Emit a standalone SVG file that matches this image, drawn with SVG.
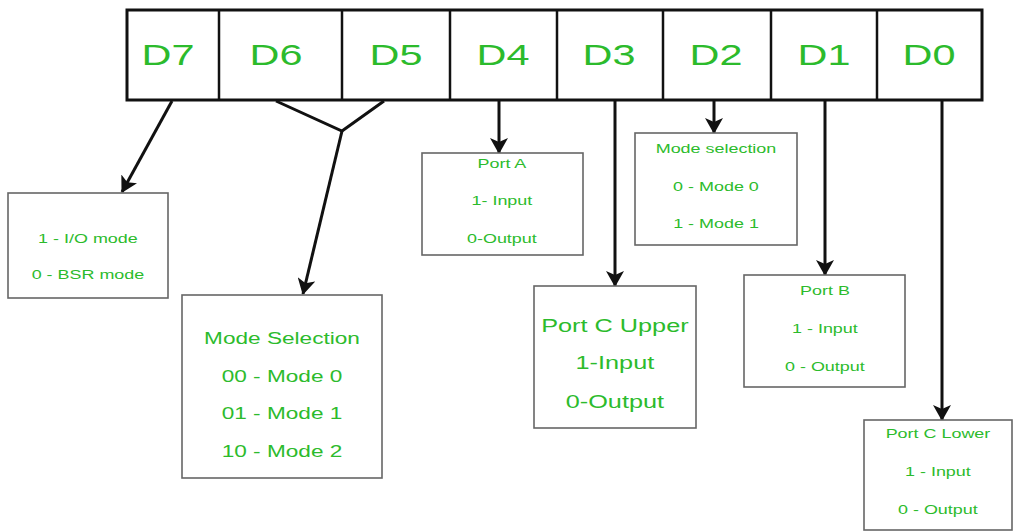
<svg xmlns="http://www.w3.org/2000/svg" width="1016" height="532" viewBox="0 0 1016 532">
<style>
text{font-family:"Liberation Sans",Arial,sans-serif;fill:#2cbb2c;text-anchor:middle;transform-box:fill-box;transform-origin:center;transform:scaleX(1.38)}
.reg{fill:#fff;stroke:#111;stroke-width:3}
.div{stroke:#111;stroke-width:2.5}
.box{fill:#fff;stroke:#666;stroke-width:1.6}
.c{stroke:#111;stroke-width:3;fill:none}
.bit{font-size:30px}
.s{font-size:13px}
.m{font-size:17px;transform:scaleX(1.33)}
.l{font-size:19px;transform:scaleX(1.33)}
</style>
<defs>
<marker id="ah" viewBox="0 0 16 18" refX="15" refY="9" markerWidth="16" markerHeight="18" markerUnits="userSpaceOnUse" orient="auto">
<path d="M0,0 L16,9 L0,18 L4,9 Z" fill="#111"/>
</marker>
</defs>
<g id="register">
<rect class="reg" x="127" y="10" width="855" height="90"/>
<line class="div" x1="219" y1="10" x2="219" y2="100"/>
<line class="div" x1="342" y1="10" x2="342" y2="100"/>
<line class="div" x1="450" y1="10" x2="450" y2="100"/>
<line class="div" x1="557" y1="10" x2="557" y2="100"/>
<line class="div" x1="663" y1="10" x2="663" y2="100"/>
<line class="div" x1="771" y1="10" x2="771" y2="100"/>
<line class="div" x1="877" y1="10" x2="877" y2="100"/>
<text class="bit" x="168" y="65">D7</text>
<text class="bit" x="276" y="65">D6</text>
<text class="bit" x="396" y="65">D5</text>
<text class="bit" x="503" y="65">D4</text>
<text class="bit" x="609" y="65">D3</text>
<text class="bit" x="716" y="65">D2</text>
<text class="bit" x="824" y="65">D1</text>
<text class="bit" x="929" y="65">D0</text>
</g>
<g id="connectors">
<line class="c" x1="172" y1="101" x2="122" y2="192" marker-end="url(#ah)"/>
<polyline class="c" points="276,101 342,131 384,101"/>
<line class="c" x1="342" y1="131" x2="303" y2="294" marker-end="url(#ah)"/>
<line class="c" x1="499" y1="101" x2="499" y2="153" marker-end="url(#ah)"/>
<line class="c" x1="615" y1="101" x2="615" y2="286" marker-end="url(#ah)"/>
<line class="c" x1="714" y1="101" x2="714" y2="133" marker-end="url(#ah)"/>
<line class="c" x1="825" y1="101" x2="825" y2="275" marker-end="url(#ah)"/>
<line class="c" x1="942" y1="101" x2="942" y2="420" marker-end="url(#ah)"/>
</g>
<g id="n-d7">
<rect class="box" x="8" y="193" width="160" height="105"/>
<text class="s" x="88" y="243">1 - I/O mode</text>
<text class="s" x="88" y="279">0 - BSR mode</text>
</g>
<g id="n-d6d5">
<rect class="box" x="182" y="295" width="200" height="183"/>
<text class="m" x="282" y="344">Mode Selection</text>
<text class="m" x="282" y="382">00 - Mode 0</text>
<text class="m" x="282" y="419">01 - Mode 1</text>
<text class="m" x="282" y="457">10 - Mode 2</text>
</g>
<g id="n-d4">
<rect class="box" x="422" y="153" width="161" height="102"/>
<text class="s" x="502" y="168">Port A</text>
<text class="s" x="502" y="205">1- Input</text>
<text class="s" x="502" y="243">0-Output</text>
</g>
<g id="n-d2">
<rect class="box" x="635" y="133" width="162" height="112"/>
<text class="s" x="716" y="153">Mode selection</text>
<text class="s" x="716" y="191">0 - Mode 0</text>
<text class="s" x="716" y="228">1 - Mode 1</text>
</g>
<g id="n-d3">
<rect class="box" x="534" y="286" width="162" height="142"/>
<text class="l" x="615" y="332">Port C Upper</text>
<text class="l" x="615" y="369">1-Input</text>
<text class="l" x="615" y="408">0-Output</text>
</g>
<g id="n-d1">
<rect class="box" x="744" y="275" width="161" height="112"/>
<text class="s" x="825" y="295">Port B</text>
<text class="s" x="825" y="333">1 - Input</text>
<text class="s" x="825" y="371">0 - Output</text>
</g>
<g id="n-d0">
<rect class="box" x="864" y="420" width="148" height="110"/>
<text class="s" x="938" y="438">Port C Lower</text>
<text class="s" x="938" y="476">1 - Input</text>
<text class="s" x="938" y="514">0 - Output</text>
</g>
</svg>
